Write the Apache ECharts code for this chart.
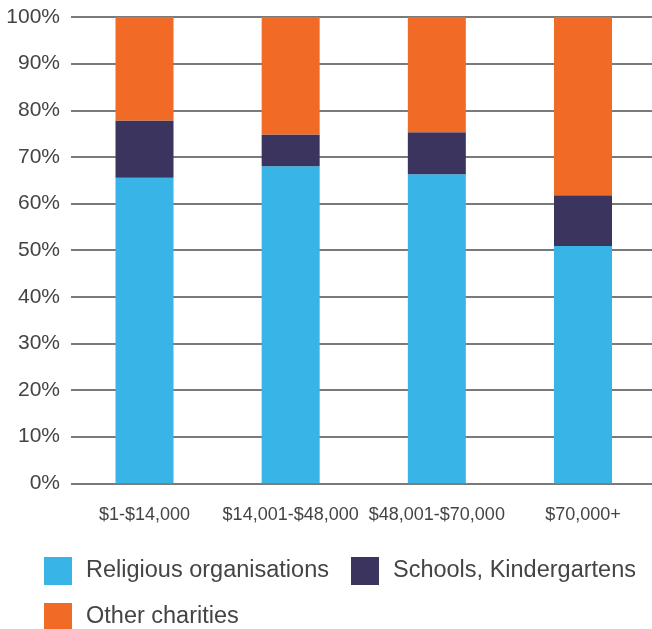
<!DOCTYPE html>
<html>
<head>
<meta charset="utf-8">
<script src="https://cdn.jsdelivr.net/npm/echarts@6/dist/echarts.min.js"></script>
<style>
  html, body { margin: 0; padding: 0; background: #fff; }
  #chart { width: 652px; height: 629px; }
</style>
</head>
<body>
<div id="chart"></div>
<script>
// income bands
const categories = ["$1-$14,000", "$14,001-$48,000", "$48,001-$70,000", "$70,000+"];
// share of giving (%), stacked bottom to top
const religious = [65.5, 68.0, 66.3, 50.9];
const schools = [12.3, 6.8, 9.0, 10.9];
const otherCharities = [22.2, 25.2, 24.7, 38.2];
const yTicks = { min: 0, max: 100, interval: 10 };

const colors = ["#39b4e6", "#3b345e", "#f26b26"];
const textColor = "#444";
const fontFamily = "Liberation Sans, Arial, sans-serif";

const chart = echarts.init(document.getElementById("chart"), null, { renderer: "canvas" });

const barSeries = (name, data, color) => ({
  name: name,
  type: "bar",
  stack: "total",
  xAxisIndex: 0,
  yAxisIndex: 1,
  barWidth: 58,
  data: data,
  itemStyle: { color: color },
  emphasis: { disabled: true },
});

const legendCommon = {
  left: 44,
  padding: 0,
  itemWidth: 28,
  itemHeight: 28,
  itemGap: 22,
  icon: "rect",
  selectedMode: false,
  textStyle: {
    color: textColor,
    fontSize: 23.5,
    fontFamily: fontFamily,
    padding: [0, 0, 0, 9],
  },
};

const option = {
  animation: false,
  color: colors,
  legend: [
    Object.assign({}, legendCommon, {
      top: 557,
      data: ["Religious organisations", "Schools, Kindergartens"],
    }),
    Object.assign({}, legendCommon, {
      top: 603,
      data: ["Other charities"],
    }),
  ],
  grid: [
    // bars: first and last bar centres sit on the grid edges
    { left: 144.5, top: 17, right: 69, bottom: 145.7 },
    // gridlines + y labels
    { left: 71, top: 17, right: 0, bottom: 145.7 },
  ],
  xAxis: [
    {
      type: "category",
      gridIndex: 0,
      data: categories,
      boundaryGap: false,
      splitLine: { show: false },
      axisLine: { show: false },
      axisTick: { show: false },
      axisLabel: {
        color: textColor,
        fontSize: 18,
        fontFamily: fontFamily,
        margin: 23,
        interval: 0,
      },
    },
    { type: "value", gridIndex: 1, show: false },
  ],
  yAxis: [
    {
      type: "value",
      gridIndex: 1,
      min: yTicks.min,
      max: yTicks.max,
      interval: yTicks.interval,
      axisLine: { show: false },
      axisTick: { show: false },
      axisLabel: {
        formatter: "{value}%",
        color: textColor,
        fontSize: 21,
        fontFamily: fontFamily,
        margin: 11,
      },
      splitLine: { lineStyle: { color: "#7a7a7a", width: 2 } },
    },
    {
      type: "value",
      gridIndex: 0,
      min: yTicks.min,
      max: yTicks.max,
      show: false,
    },
  ],
  series: [
    barSeries("Religious organisations", religious, colors[0]),
    barSeries("Schools, Kindergartens", schools, colors[1]),
    barSeries("Other charities", otherCharities, colors[2]),
  ],
};

chart.setOption(option);
</script>
</body>
</html>
